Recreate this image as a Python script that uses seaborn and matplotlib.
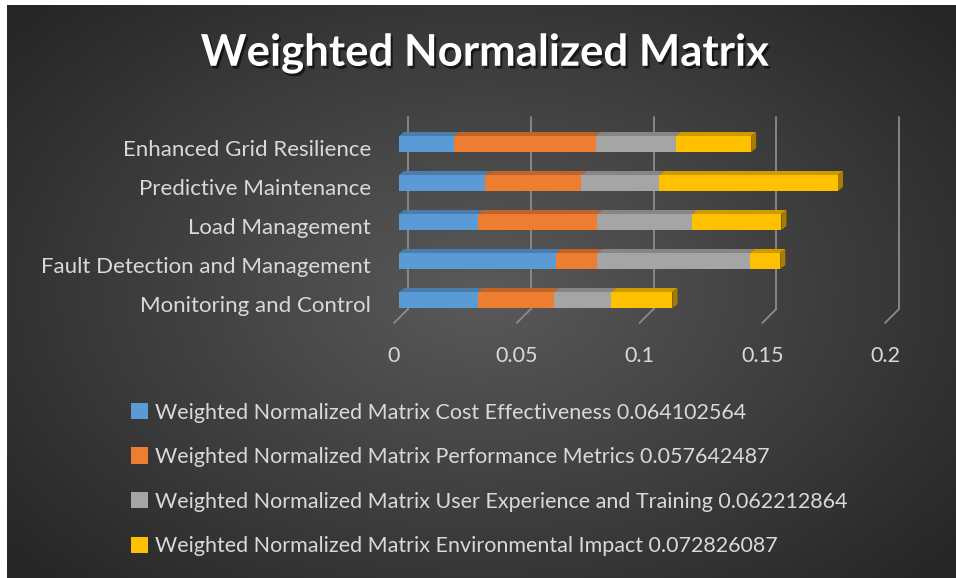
import numpy as np
import pandas as pd
import seaborn as sns
import matplotlib.pyplot as plt
import matplotlib.patheffects as pe
from matplotlib.patches import Polygon, Patch
from matplotlib.transforms import ScaledTranslation

categories = ['Enhanced Grid Resilience', 'Predictive Maintenance', 'Load Management',
              'Fault Detection and Management', 'Monitoring and Control']
cost = [0.0224, 0.0352, 0.0321, 0.064102564, 0.0321]
performance = [0.057642487, 0.0391, 0.0487, 0.0166, 0.0311]
user_exp = [0.0326, 0.0317, 0.0385, 0.062212864, 0.0232]
environment = [0.0308, 0.072826087, 0.0365, 0.0124, 0.0250]
series_names = ['Weighted Normalized Matrix Cost Effectiveness 0.064102564',
                'Weighted Normalized Matrix Performance Metrics 0.057642487',
                'Weighted Normalized Matrix User Experience and Training 0.062212864',
                'Weighted Normalized Matrix Environmental Impact 0.072826087']
xticks = [0, 0.05, 0.1, 0.15, 0.2]

colors = ['#5B9BD5', '#ED7D31', '#A5A5A5', '#FFC000']
tops = ['#4A7DAD', '#C0652A', '#868686', '#CF9C00']
sides = ['#3E6891', '#A0541F', '#6F6F6F', '#A67D00']

sns.set_style('dark')
plt.rcParams['font.family'] = ['Lato', 'DejaVu Sans']
txt = '#D9D9D9'

W, H = 956, 578
fig = plt.figure(figsize=(W / 100, H / 100), dpi=100, facecolor='white')

# background with radial gradient
bg = fig.add_axes([7 / W, 0, (W - 7) / W, (H - 5) / H])
gx, gy = np.meshgrid(np.linspace(-1, 1, 400), np.linspace(-1, 1, 250))
r = np.clip(np.sqrt((gx * 1.0) ** 2 + (gy * 0.9) ** 2) / 1.3, 0, 1)
c0, c1 = 0x5A / 255, 0x26 / 255
shade = c0 + (c1 - c0) * r
bg.imshow(np.dstack([shade] * 3), aspect='auto', extent=[0, 1, 0, 1])
bg.set_axis_off()

df = pd.DataFrame({'cat': categories, 'a': cost, 'b': performance, 'c': user_exp, 'd': environment})
segs = [df['a'], df['b'], df['c'], df['d']]
cums = np.cumsum(np.array(segs), axis=0)

ax = fig.add_axes([399 / W, (H - 319.5) / H, 491 / W, 195 / H])
ax.set_facecolor('none')
bh = 0.41
for k in range(3, -1, -1):
    sns.barplot(x=cums[k], y=df['cat'], orient='h', color=colors[k], width=bh,
                saturation=1, ax=ax, zorder=3, edgecolor='none', linewidth=0)

ax.set_xlim(0, 0.2)
ax.set_ylim(4.5, -0.5)
dx = 5 * 0.2 / 491
dy = 4 * 5 / 195
for i in range(len(categories)):
    left = 0
    for k in range(4):
        right = cums[k][i]
        y0 = i - bh / 2
        ax.add_patch(Polygon([(left, y0), (right, y0), (right + dx, y0 - dy), (left + dx, y0 - dy)],
                             closed=True, facecolor=tops[k], edgecolor='none', zorder=3))
        left = right
    t = cums[3][i]
    ax.add_patch(Polygon([(t, i - bh / 2), (t + dx, i - bh / 2 - dy), (t + dx, i + bh / 2 - dy), (t, i + bh / 2)],
                         closed=True, facecolor=sides[3], edgecolor='none', zorder=3))

# 3d style gridlines
off = 9 * 0.2 / 491
for v in xticks:
    ax.plot([v + off, v + off], [-0.5 - 7.5 / 39, 4.5 - 10.5 / 39], color='#8C8C8C', lw=1.3,
            zorder=1, clip_on=False)
    ax.plot([v + off, v - 5 * 0.2 / 491], [4.5 - 10.5 / 39, 4.5 + 3.5 / 39], color='#8C8C8C', lw=1.3,
            zorder=1, clip_on=False)

for s in ax.spines.values():
    s.set_visible(False)
ax.grid(False)
ax.set_xlabel('')
ax.set_ylabel('')
ax.set_xticks(xticks)
ax.set_xticklabels(['0', '0.05', '0.1', '0.15', '0.2'])
ax.tick_params(axis='x', length=0, pad=19, labelsize=15.5, labelcolor=txt)
ax.tick_params(axis='y', length=0, pad=20, labelsize=16, labelcolor=txt)
for lab in ax.get_yticklabels():
    lab.set_transform(lab.get_transform() + ScaledTranslation(0, -4 / 100, fig.dpi_scale_trans))
for lab in ax.get_xticklabels():
    lab.set_transform(lab.get_transform() + ScaledTranslation(-5 / 100, 0, fig.dpi_scale_trans))

fig.text(0.507, (H - 53) / H, 'Weighted Normalized Matrix', ha='center', va='center', color='white',
         fontsize=31.5, fontweight='bold',
         path_effects=[pe.withSimplePatchShadow(offset=(1.5, -2), shadow_rgbFace='black', alpha=0.6)])

handles = [Patch(facecolor=c, edgecolor='none') for c in colors]
fig.legend(handles, series_names, loc='upper left', bbox_to_anchor=(122 / W, (H - 394) / H),
           frameon=False, fontsize=15.5, labelcolor=txt, handlelength=0.8, handleheight=0.8,
           handletextpad=0.35, labelspacing=1.14, borderaxespad=0)

fig.savefig('out.png', dpi=100, facecolor='white')
